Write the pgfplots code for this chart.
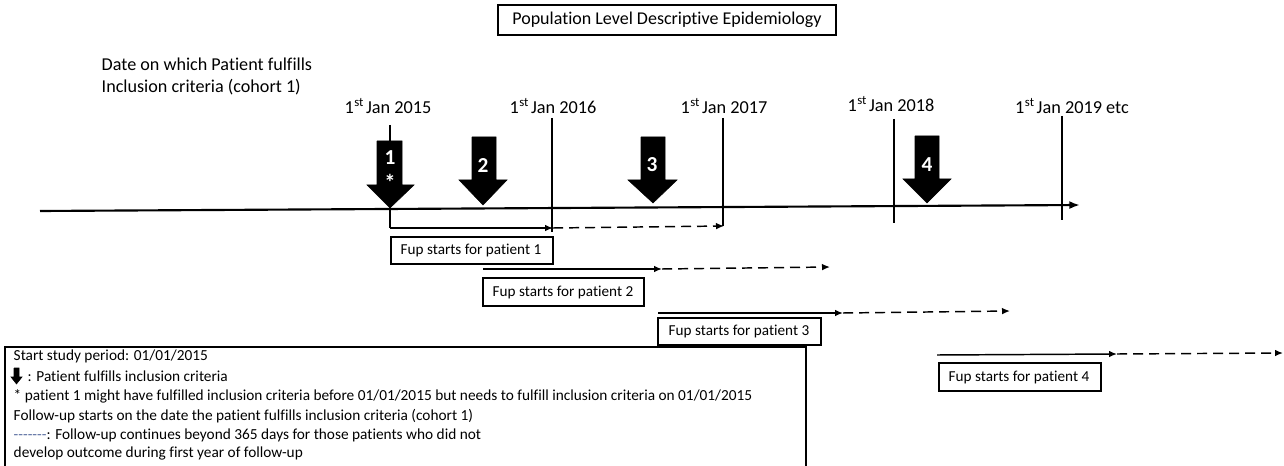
\documentclass[border=0pt]{standalone}
\usepackage{fontspec}
\defaultfontfeatures{}
\setmainfont{Carlito}[Ligatures={NoCommon}]
\usepackage{pgfplots}
\pgfplotsset{compat=1.18}
\usetikzlibrary{arrows.meta}
\definecolor{dashblue}{RGB}{90,110,160}
\newcommand{\st}{\kern0.3pt\textsuperscript{st}}
\begin{document}
\begin{tikzpicture}
\begin{axis}[scale only axis, width=963pt, height=349.5pt,
  xmin=0, xmax=1284, ymin=0, ymax=466, y dir=reverse,
  hide axis, clip=false, no markers,
  tip/.style={-{Latex[length=6pt,width=5pt]}},
  dashes/.style={dash pattern=on 7.5pt off 4.5pt}]
% title box
\draw[black, line width=0.8pt] (axis cs:498,5) rectangle (axis cs:836,35);
\node[font=\fontsize{13.5}{15}\selectfont] at (axis cs:667,20) {Population Level Descriptive Epidemiology};
% heading left
\node[anchor=west, font=\fontsize{13.6}{15}\selectfont] at (axis cs:97,64) {Date on which Patient fulfills};
\node[anchor=west, font=\fontsize{13.6}{15}\selectfont] at (axis cs:97,87) {Inclusion criteria (cohort 1)};
% date labels
\node[font=\fontsize{13.7}{15}\selectfont] at (axis cs:388,106) {1\st{}\kern1.5pt Jan 2015};
\node[font=\fontsize{13.7}{15}\selectfont] at (axis cs:553,106) {1\st{}\kern1.5pt Jan 2016};
\node[font=\fontsize{13.7}{15}\selectfont] at (axis cs:724,106) {1\st{}\kern1.5pt Jan 2017};
\node[font=\fontsize{13.7}{15}\selectfont] at (axis cs:891,104) {1\st{}\kern1.5pt Jan 2018};
\node[font=\fontsize{13.7}{15}\selectfont] at (axis cs:1072,106) {1\st{}\kern1.5pt Jan 2019 etc};
% main timeline
\addplot[black, line width=1.6pt, -{Latex[length=8pt,width=6pt]}] coordinates {(40,211) (1080,205)};
% year lines
\addplot[black, line width=0.8pt] coordinates {(390,125) (390,228)};
\addplot[black, line width=0.8pt] coordinates {(552,118) (552,232)};
\addplot[black, line width=0.8pt] coordinates {(723,118) (723,226)};
\addplot[black, line width=0.8pt] coordinates {(894,119) (894,223)};
\addplot[black, line width=0.8pt] coordinates {(1062,116) (1062,220)};
% block arrows
\addplot[black, fill=black] coordinates {(377,141) (402,141) (402,185) (414,185) (390,208) (367,185) (377,185) (377,141)};
\addplot[black, fill=black] coordinates {(472,137) (496,137) (496,180) (507,180) (483,205) (459,180) (472,180) (472,137)};
\addplot[black, fill=black] coordinates {(641,137) (665,137) (665,180) (677,180) (653,203) (628,180) (641,180) (641,137)};
\addplot[black, fill=black] coordinates {(915,136) (939,136) (939,179) (951,179) (927,203) (903,179) (915,179) (915,136)};
\node[white, font=\bfseries\fontsize{16}{18}\selectfont] at (axis cs:390,158) {1};
\node[white, font=\bfseries\fontsize{17}{18}\selectfont] at (axis cs:390,182) {*};
\node[white, font=\bfseries\fontsize{16}{18}\selectfont] at (axis cs:483,166) {2};
\node[white, font=\bfseries\fontsize{16}{18}\selectfont] at (axis cs:652,165) {3};
\node[white, font=\bfseries\fontsize{16}{18}\selectfont] at (axis cs:927,165) {4};
% follow-up lines
\addplot[black, line width=1.1pt, tip] coordinates {(390,228) (553,228)};
\addplot[black, line width=1.1pt, tip, dashes] coordinates {(553,228) (724,226)};
\addplot[black, line width=1.1pt, tip] coordinates {(483,269) (662,269)};
\addplot[black, line width=1.1pt, tip, dashes] coordinates {(662,269) (830,267)};
\addplot[black, line width=1.1pt, tip] coordinates {(658,313) (843,313)};
\addplot[black, line width=1.1pt, tip, dashes] coordinates {(843,313) (1010,311)};
\addplot[black, line width=1.1pt, tip] coordinates {(937,355) (1117,354)};
\addplot[black, line width=1.1pt, tip, dashes] coordinates {(1117,354) (1283,353)};
% fup boxes
\draw[black, line width=0.8pt] (axis cs:391,237) rectangle (axis cs:553,264);
\node[font=\fontsize{11.4}{13}\selectfont] at (axis cs:471,250.5) {Fup starts for patient 1};
\draw[black, line width=0.8pt] (axis cs:483,278) rectangle (axis cs:644,306);
\node[font=\fontsize{11.4}{13}\selectfont] at (axis cs:563,292) {Fup starts for patient 2};
\draw[black, line width=0.8pt] (axis cs:658,318) rectangle (axis cs:821,345);
\node[font=\fontsize{11.4}{13}\selectfont] at (axis cs:739,331.5) {Fup starts for patient 3};
\draw[black, line width=0.8pt] (axis cs:939,363) rectangle (axis cs:1101,391);
\node[font=\fontsize{11.4}{13}\selectfont] at (axis cs:1019,377) {Fup starts for patient 4};
% legend box (bottom cut off)
\draw[black, line width=0.8pt] (axis cs:5,470) -- (axis cs:5,347) -- (axis cs:806,347) -- (axis cs:806,470);
\node[anchor=west, font=\fontsize{11.5}{13}\selectfont] at (axis cs:9,356) {Start study period: 01/01/2015};
\addplot[black, fill=black] coordinates {(14,368) (19,368) (19,377) (22,377) (16.5,384) (11,377) (14,377) (14,368)};
\node[anchor=west, font=\fontsize{11.5}{13}\selectfont] at (axis cs:23,376) {: Patient fulfills inclusion criteria};
\node[anchor=west, font=\fontsize{11.5}{13}\selectfont] at (axis cs:9,396) {* patient 1 might have fulfilled inclusion criteria before 01/01/2015 but needs to fulfill inclusion criteria on 01/01/2015};
\node[anchor=west, font=\fontsize{11.5}{13}\selectfont] at (axis cs:9,416) {Follow-up starts on the date the patient fulfills inclusion criteria (cohort 1)};
\node[anchor=west, font=\fontsize{11.5}{13}\selectfont] at (axis cs:9,435) {\textcolor{dashblue}{-{}-{}-{}-{}-{}-{}-}: Follow-up continues beyond 365 days for those patients who did not};
\node[anchor=west, font=\fontsize{11.5}{13}\selectfont] at (axis cs:9,453) {develop outcome during first year of follow-up};
\end{axis}
\pgfresetboundingbox
\path[use as bounding box] (current axis.south west) rectangle (current axis.north east);
\end{tikzpicture}
\end{document}
